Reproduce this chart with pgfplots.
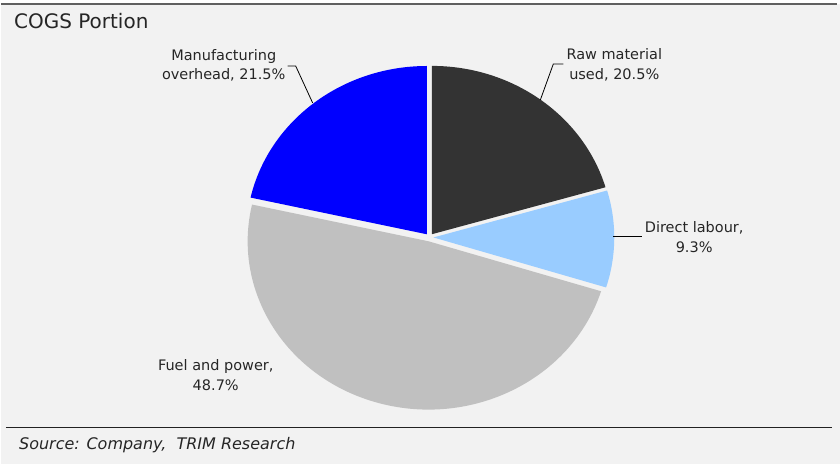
\documentclass[border=0pt]{standalone}
\usepackage{pgfplots}
\usepackage{pgfplotstable}
\pgfplotsset{compat=1.18}
\usepackage{fontspec}
\setmainfont{DejaVu Sans}
\definecolor{bg}{HTML}{F2F2F2}
\definecolor{rawc}{HTML}{333333}
\definecolor{labc}{HTML}{99CCFF}
\definecolor{fuelc}{HTML}{C0C0C0}
\definecolor{manc}{HTML}{0000FF}
\definecolor{topline}{HTML}{606060}
\definecolor{botline}{HTML}{222222}

\pgfplotstableread[col sep=comma]{
value,color
20.5,rawc
9.3,labc
48.7,fuelc
21.5,manc
}\piedata
\pgfplotstablecreatecol[create col/expr accum={\pgfmathaccuma + \thisrow{value}}{0}]{cum}\piedata

\begin{document}
\begin{tikzpicture}
\begin{axis}[
  width=840pt, height=465pt, scale only axis,
  xmin=0, xmax=840, ymin=0, ymax=465,
  hide axis, clip=false,
]
% background
\fill[white] (axis cs:0,0) rectangle (axis cs:840,465);
\fill[bg] (axis cs:0,0) rectangle (axis cs:840,461);
\draw[topline, line width=2pt] (axis cs:0,461.3) -- (axis cs:837,461.3);
\draw[botline, line width=1.3pt] (axis cs:5,37) -- (axis cs:832,37);
% pie slices
\pgfplotsextra{
  \foreach \i in {0,...,3}{
    \pgfplotstablegetelem{\i}{value}\of\piedata \let\v\pgfplotsretval
    \pgfplotstablegetelem{\i}{cum}\of\piedata \let\c\pgfplotsretval
    \pgfplotstablegetelem{\i}{color}\of\piedata \let\col\pgfplotsretval
    \pgfmathsetmacro\ea{90-3.6*\c}
    \pgfmathsetmacro\sa{\ea+3.6*\v}
    \pgfmathsetmacro\md{(\sa+\ea)/2}
    \pgfmathsetmacro\ox{429+4*cos(\md)}
    \pgfmathsetmacro\oy{227.3+4*sin(\md)}
    \fill[fill=\col] (axis cs:\ox,\oy) -- ++(\sa:181pt and 168.5pt)
      arc[start angle=\sa, end angle=\ea, x radius=181pt, y radius=168.5pt] -- cycle;
  }
}
% leaders
\draw[black, line width=0.8pt] (axis cs:287,399) -- (axis cs:295,399) -- (axis cs:312,362);
\draw[black, line width=0.8pt] (axis cs:563,401) -- (axis cs:553,401) -- (axis cs:540,365);
\draw[black, line width=0.8pt] (axis cs:613,228) -- (axis cs:642,228);
% labels
\node[align=center, font=\fontsize{14.5}{19.5}\selectfont, text=black!85] at (axis cs:223,399.5) {Manufacturing\\overhead, 21.5\%};
\node[align=center, font=\fontsize{14.5}{19.5}\selectfont, text=black!85] at (axis cs:614,400) {Raw material\\used, 20.5\%};
\node[align=center, font=\fontsize{14.5}{19.5}\selectfont, text=black!85] at (axis cs:694,227.5) {Direct labour,\\9.3\%};
\node[align=center, font=\fontsize{14.5}{19.5}\selectfont, text=black!85] at (axis cs:215,89.5) {Fuel and power,\\48.7\%};
% title and source
\node[anchor=base west, font=\fontsize{20}{24}\selectfont, text=black!85, inner sep=0pt] at (axis cs:13,436) {COGS Portion};
\node[anchor=base west, font=\fontsize{16}{19}\selectfont\itshape, text=black!85, inner sep=0pt] at (axis cs:18,15) {Source: Company, \ TRIM Research};
\end{axis}
\end{tikzpicture}
\end{document}
